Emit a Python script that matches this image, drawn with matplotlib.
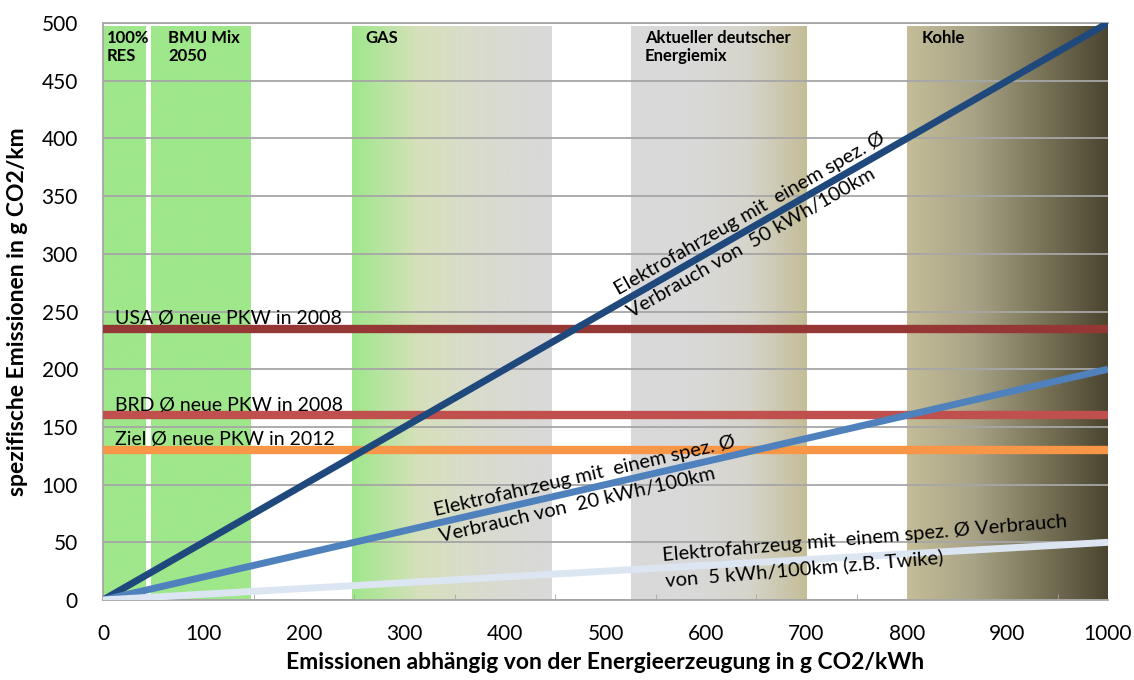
import numpy as np
import matplotlib.pyplot as plt
from matplotlib.colors import LinearSegmentedColormap

plt.rcParams['font.family'] = ['Lato', 'DejaVu Sans']

# Energy mix ranges in g CO2/kWh
band_names = ['100%\nRES', 'BMU Mix\n2050', 'GAS', 'Aktueller deutscher\nEnergiemix', 'Kohle']
band_start = [0, 48, 248, 525, 800]
band_end = [42, 147, 447, 700, 1000]
band_colors = [
    ['#9fe78b', '#9fe78b'],
    ['#9fe78b', '#9fe78b'],
    ['#9fe78b', '#d6e0bb', '#d9dbcf', '#d9d9d9'],
    ['#d9d9d9', '#d9d9d9', '#d6d5cc', '#c4bd98'],
    ['#c4bd98', '#a8a386', '#7a7559', '#4b4530'],
]

# Average new car emissions in g CO2/km
ref_labels = ['USA Ø neue PKW in 2008', 'BRD Ø neue PKW in 2008', 'Ziel Ø neue PKW in 2012']
ref_values = [235, 160, 130]
ref_colors = ['#953735', '#c0504d', '#f79646']

# Electric vehicles: consumption in kWh/100km
ev_consumption = [50, 20, 5]
ev_colors = ['#1f497d', '#4f81bd', '#dce6f2']
ev_widths = [5, 5, 5]
x_grid = [0, 1000]

fig = plt.figure(figsize=(11.34, 6.8), dpi=100)
ax = fig.add_axes([103 / 1134, 80 / 680, 1005 / 1134, 577 / 680])

# gradient bands
for x0, x1, cols in zip(band_start, band_end, band_colors):
    cmap = LinearSegmentedColormap.from_list('band', cols)
    ax.imshow(np.linspace(0, 1, 256).reshape(1, -1), cmap=cmap, aspect='auto',
              extent=[x0, x1, 0, 497], zorder=0)
label_x = [4, 65, 261, 539, 815]
for lx, name in zip(label_x, band_names):
    ax.text(lx, 494, name, fontsize=12, fontweight='bold', va='top', ha='left',
            linespacing=1.15, zorder=5)

ax.set_xlim(0, 1000)
ax.set_ylim(0, 500)
ax.set_yticks(range(0, 501, 50))
ax.set_xticks(range(0, 1001, 100))
ax.set_xticks(range(0, 1001, 50), minor=True)
ax.grid(axis='y', color='#a6a6a6', linewidth=1.3, zorder=1)
ax.set_axisbelow(False)
ax.tick_params(axis='both', labelsize=15, length=0)
ax.tick_params(axis='y', pad=18)
ax.tick_params(axis='x', pad=17)
ax.tick_params(axis='x', which='minor', direction='in', length=4, color='#a6a6a6')
ax.spines['right'].set_visible(False)
for s in ['left', 'bottom', 'top']:
    ax.spines[s].set_color('#a6a6a6')
    ax.spines[s].set_linewidth(1.3)

# reference lines
for val, lab, col in zip(ref_values, ref_labels, ref_colors):
    ax.plot(x_grid, [val, val], color=col, linewidth=6, solid_capstyle='butt', zorder=3)
    ax.text(12, val + 1.5, lab, fontsize=14, va='bottom', ha='left', zorder=5)

# electric vehicle lines: kWh/100km * g/kWh / 100 = g/km
for cons, col, w in zip(ev_consumption, ev_colors, ev_widths):
    ys = [x * cons / 100 for x in x_grid]
    ax.plot(x_grid, ys, color=col, linewidth=w, solid_capstyle='butt', zorder=4)

slope_deg = [np.degrees(np.arctan(c / 100)) for c in ev_consumption]
ax.text(650, 650 * 0.5, 'Elektrofahrzeug mit  einem spez. Ø\nVerbrauch von  50 kWh/100km',
        fontsize=14.5, rotation=slope_deg[0], transform_rotates_text=True, rotation_mode='anchor',
        ha='center', va='center', linespacing=1.7, multialignment='left', zorder=5)
ax.text(482, 482 * 0.2, 'Elektrofahrzeug mit  einem spez. Ø\nVerbrauch von  20 kWh/100km',
        fontsize=14.5, rotation=slope_deg[1], transform_rotates_text=True, rotation_mode='anchor',
        ha='center', va='center', linespacing=1.7, multialignment='left', zorder=5)
ax.text(558, 558 * 0.05, 'Elektrofahrzeug mit  einem spez. Ø Verbrauch\nvon  5 kWh/100km (z.B. Twike)',
        fontsize=14.5, rotation=4.8, rotation_mode='anchor',
        ha='left', va='center', linespacing=1.5, multialignment='left', zorder=5)

ax.set_xlabel('Emissionen abhängig von der Energieerzeugung in g CO2/kWh',
              fontsize=16.5, fontweight='bold', labelpad=6)
ax.set_ylabel('spezifische Emissionen in g CO2/km', fontsize=16.5, fontweight='bold', labelpad=10)

fig.savefig('out.png', dpi=100)
